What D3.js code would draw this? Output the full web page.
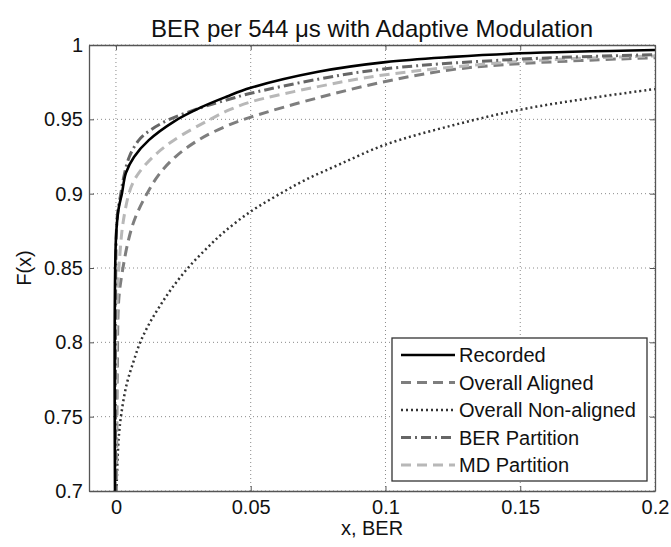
<!DOCTYPE html>
<html>
<head>
<meta charset="utf-8">
<script src="https://cdn.jsdelivr.net/npm/d3@7"></script>
<style>
  body { margin: 0; background: #fff; }
  text { font-family: "Liberation Sans", Arial, Helvetica, sans-serif; }
</style>
</head>
<body>
<div id="chart"></div>
<script>
// values (BER, CDF)
const recX = [0, 0, 0.001, 0.0022, 0.0037, 0.0067, 0.0122, 0.0215, 0.0315, 0.041, 0.05, 0.075, 0.1, 0.125, 0.15, 0.2];
const recF = [0.6, 0.87, 0.89, 0.9, 0.914, 0.9247, 0.936, 0.9485, 0.958, 0.9652, 0.9712, 0.982, 0.9885, 0.992, 0.9944, 0.9966];

const alnX = [0, 0.0005, 0.0011, 0.0026, 0.0048, 0.0072, 0.0115, 0.016, 0.0225, 0.031, 0.041, 0.05, 0.075, 0.1, 0.125, 0.15, 0.2];
const alnF = [0.6, 0.78, 0.83, 0.85, 0.87, 0.884, 0.9, 0.913, 0.9255, 0.9365, 0.9455, 0.9515, 0.9645, 0.9755, 0.9835, 0.9875, 0.9915];

const nonX = [0, 0.001, 0.002, 0.004, 0.0065, 0.009, 0.0125, 0.0165, 0.021, 0.0267, 0.033, 0.04, 0.05, 0.06, 0.07, 0.0833, 0.1, 0.125, 0.15, 0.175, 0.2];
const nonF = [0.69, 0.735, 0.752, 0.772, 0.787, 0.8, 0.813, 0.825, 0.837, 0.85, 0.862, 0.874, 0.888, 0.899, 0.909, 0.92, 0.933, 0.946, 0.9565, 0.964, 0.9704];

const berX = [0, 0, 0.0005, 0.0018, 0.003, 0.005, 0.0085, 0.013, 0.0193, 0.0315, 0.042, 0.05, 0.075, 0.1, 0.15, 0.2];
const berF = [0.6, 0.86, 0.885, 0.9, 0.912, 0.925, 0.936, 0.943, 0.9495, 0.9578, 0.9635, 0.9675, 0.977, 0.984, 0.9905, 0.9935];

const mdX = [0, 0.0005, 0.0015, 0.0026, 0.0048, 0.0065, 0.0085, 0.0137, 0.0215, 0.035, 0.042, 0.05, 0.075, 0.1, 0.15, 0.2];
const mdF = [0.6, 0.83, 0.86, 0.88, 0.9, 0.908, 0.914, 0.9247, 0.936, 0.95, 0.9563, 0.9617, 0.972, 0.98, 0.989, 0.9926];

const seriesNames = ["Recorded", "Overall Aligned", "Overall Non-aligned", "BER Partition", "MD Partition"];
const xTicks = [0, 0.05, 0.1, 0.15, 0.2];
const xTickLabels = ["0", "0.05", "0.1", "0.15", "0.2"];
const yTicks = [0.7, 0.75, 0.8, 0.85, 0.9, 0.95, 1];
const yTickLabels = ["0.7", "0.75", "0.8", "0.85", "0.9", "0.95", "1"];

const series = [
  { name: seriesNames[0], xs: recX, fs: recF, color: "#000", width: 2.6, dash: null },
  { name: seriesNames[1], xs: alnX, fs: alnF, color: "#7e7e7e", width: 3, dash: "10,6" },
  { name: seriesNames[2], xs: nonX, fs: nonF, color: "#333", width: 2.5, dash: "2,3" },
  { name: seriesNames[3], xs: berX, fs: berF, color: "#666", width: 3, dash: "10,4,2,4" },
  { name: seriesNames[4], xs: mdX, fs: mdF, color: "#b8b8b8", width: 3, dash: "10,6" }
];

const W = 671, H = 547;
const m = { left: 89, right: 16, top: 45, bottom: 56 };

const svg = d3.select("#chart").append("svg")
  .attr("width", W)
  .attr("height", H);

svg.append("rect").attr("width", W).attr("height", H).attr("fill", "#fff");

const x = d3.scaleLinear()
  .domain([-0.01, 0.2])
  .range([m.left, W - m.right]);

const y = d3.scaleLinear()
  .domain([0.7, 1])
  .range([H - m.bottom, m.top]);

// grid
const grid = svg.append("g")
  .attr("stroke", "#8a8a8a")
  .attr("stroke-width", 1)
  .attr("stroke-dasharray", "1,3");
grid.selectAll(".gx").data(xTicks).join("line")
  .attr("x1", d => x(d)).attr("x2", d => x(d))
  .attr("y1", y(0.7)).attr("y2", y(1));
grid.selectAll(".gy").data(yTicks).join("line")
  .attr("y1", d => y(d)).attr("y2", d => y(d))
  .attr("x1", x(-0.01)).attr("x2", x(0.2));

// curves
svg.append("clipPath").attr("id", "clip")
  .append("rect")
  .attr("x", m.left).attr("y", m.top)
  .attr("width", W - m.left - m.right)
  .attr("height", H - m.top - m.bottom);

const line = d3.line()
  .x(d => x(d[0]))
  .y(d => y(d[1]))
  .curve(d3.curveCatmullRom.alpha(0.5));

const drawOrder = [2, 1, 4, 3, 0];
svg.append("g").attr("clip-path", "url(#clip)")
  .selectAll("path")
  .data(drawOrder.map(i => series[i]))
  .join("path")
  .attr("fill", "none")
  .attr("stroke", d => d.color)
  .attr("stroke-width", d => d.width)
  .attr("stroke-dasharray", d => d.dash)
  .attr("d", d => line(d.xs.map((v, i) => [v, d.fs[i]])));

// axes (ticks inside, on all four sides)
function styleAxis(g) {
  g.select(".domain").attr("stroke", "#555").attr("stroke-width", 1.3);
  g.selectAll(".tick line").attr("stroke", "#555");
  g.selectAll(".tick text")
    .attr("font-size", "20px")
    .attr("fill", "#111")
    .attr("font-family", '"Liberation Sans", Arial, sans-serif');
}

svg.append("g")
  .attr("transform", `translate(0,${y(0.7)})`)
  .call(d3.axisBottom(x).tickValues(xTicks).tickFormat((d, i) => xTickLabels[i])
    .tickSizeInner(-5).tickSizeOuter(0).tickPadding(9))
  .call(styleAxis);

svg.append("g")
  .attr("transform", `translate(0,${y(1)})`)
  .call(d3.axisTop(x).tickValues(xTicks).tickFormat("")
    .tickSizeInner(-5).tickSizeOuter(0))
  .call(styleAxis);

svg.append("g")
  .attr("transform", `translate(${x(-0.01)},0)`)
  .call(d3.axisLeft(y).tickValues(yTicks).tickFormat((d, i) => yTickLabels[i])
    .tickSizeInner(-5).tickSizeOuter(0).tickPadding(6))
  .call(styleAxis);

svg.append("g")
  .attr("transform", `translate(${x(0.2)},0)`)
  .call(d3.axisRight(y).tickValues(yTicks).tickFormat("")
    .tickSizeInner(-5).tickSizeOuter(0))
  .call(styleAxis);

// labels
const cx = (x(-0.01) + x(0.2)) / 2;
svg.append("text")
  .attr("x", cx).attr("y", 37)
  .attr("text-anchor", "middle")
  .attr("font-size", "24px")
  .attr("fill", "#111")
  .text("BER per 544 μs with Adaptive Modulation");

svg.append("text")
  .attr("x", cx).attr("y", 535)
  .attr("text-anchor", "middle")
  .attr("font-size", "20px")
  .attr("fill", "#111")
  .text("x, BER");

svg.append("text")
  .attr("transform", `translate(31,${(y(0.7) + y(1)) / 2}) rotate(-90)`)
  .attr("text-anchor", "middle")
  .attr("font-size", "20px")
  .attr("fill", "#111")
  .text("F(x)");

// legend
const lg = svg.append("g").attr("transform", "translate(392,338)");
lg.append("rect")
  .attr("width", 255).attr("height", 143)
  .attr("fill", "#fff")
  .attr("stroke", "#333")
  .attr("stroke-width", 1.3);

const rows = lg.selectAll(".row").data(series).join("g")
  .attr("transform", (d, i) => `translate(0,${17 + i * 27.5})`);
rows.append("line")
  .attr("x1", 9).attr("x2", 63)
  .attr("stroke", d => d.color)
  .attr("stroke-width", d => d.width)
  .attr("stroke-dasharray", d => d.dash);
rows.append("text")
  .attr("x", 67).attr("dy", "0.35em")
  .attr("font-size", "20px")
  .attr("fill", "#111")
  .text(d => d.name);
</script>
</body>
</html>
